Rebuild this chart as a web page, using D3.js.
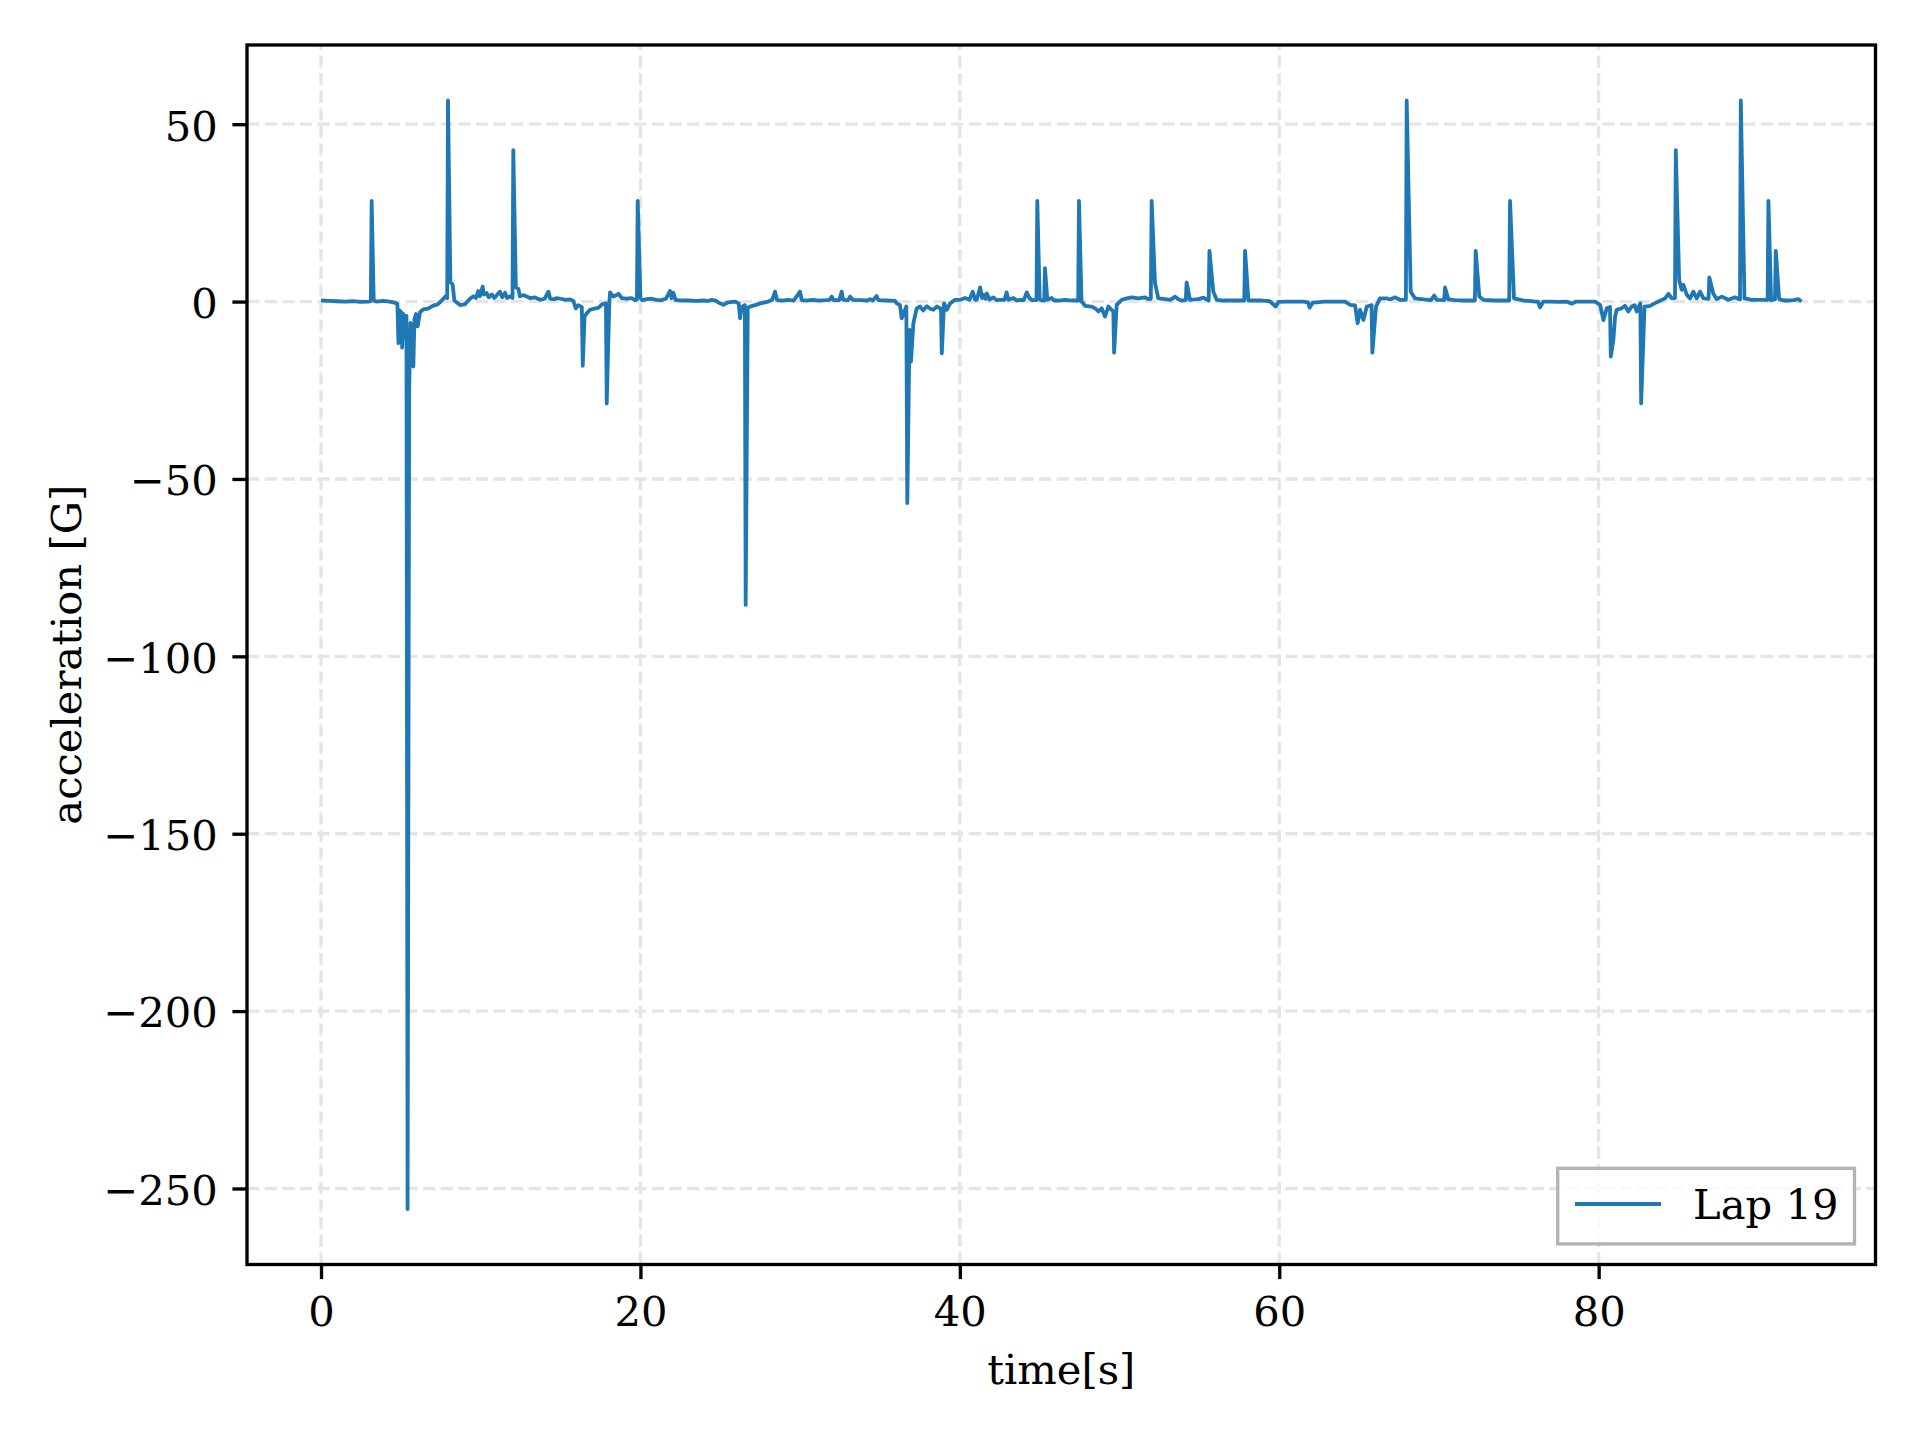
<!DOCTYPE html>
<html>
<head>
<meta charset="utf-8">
<script src="https://cdn.jsdelivr.net/npm/d3@7"></script>
<style>
  html, body { margin: 0; padding: 0; background: #ffffff; }
  svg { display: block; }
  text { font-family: "DejaVu Serif", serif; fill: #000; }
</style>
</head>
<body>
<svg id="chart" width="1920" height="1440"></svg>
<script>
// ---- data ----
const time = [
  0.00, 0.5, 1.0, 1.5, 2.0, 2.5, 3.0, 3.12, 3.17, 3.3, 3.45, 3.9, 4.3, 4.6, 4.78, 4.85, 4.92, 5.02, 5.08, 5.15,
  5.25, 5.35, 5.42, 5.52, 5.6, 5.7, 5.78, 5.85, 5.95, 6.05, 6.2, 6.4, 6.7, 7.0, 7.3, 7.6, 7.8, 7.9, 7.95, 8.1,
  8.24, 8.35, 8.7, 9.0, 9.33, 9.54, 9.7, 9.85, 9.95, 10.12, 10.2, 10.37, 10.5, 10.7, 10.85, 11.0, 11.2, 11.35, 11.52, 11.65,
  11.83, 11.99, 12.04, 12.2, 12.36, 12.45, 12.7, 13.09, 13.4, 13.71, 14.0, 14.24, 14.35, 14.6, 14.76, 15.0, 15.3, 15.6, 15.8, 15.95,
  16.1, 16.33, 16.39, 16.5, 16.7, 16.84, 17.1, 17.36, 17.6, 17.84, 17.89, 18.05, 18.1, 18.31, 18.62, 18.83, 19.1, 19.45, 19.65, 19.78,
  19.83, 20.0, 20.12, 20.4, 20.71, 21.0, 21.3, 21.6, 21.85, 21.95, 22.06, 22.2, 22.58, 23.0, 23.5, 24.0, 24.26, 24.47, 24.7, 24.9,
  25.19, 25.5, 25.93, 26.15, 26.24, 26.34, 26.54, 26.59, 26.72, 26.86, 27.18, 27.5, 28.0, 28.25, 28.43, 28.55, 28.85, 29.26, 29.6, 29.99,
  30.1, 30.41, 30.8, 31.2, 31.6, 31.85, 31.98, 32.1, 32.45, 32.6, 32.7, 33.0, 33.13, 33.3, 33.8, 34.2, 34.38, 34.55, 34.79, 34.9,
  35.4, 35.94, 36.05, 36.25, 36.36, 36.65, 36.71, 36.85, 36.94, 37.09, 37.3, 37.51, 37.7, 37.93, 38.15, 38.35, 38.55, 38.82, 38.87, 39.01,
  39.18, 39.39, 39.7, 40.01, 40.33, 40.6, 40.81, 40.95, 41.06, 41.27, 41.4, 41.48, 41.6, 41.69, 41.85, 42.1, 42.3, 42.51, 42.8, 42.93,
  43.05, 43.35, 43.55, 43.77, 44.0, 44.19, 44.35, 44.5, 44.8, 44.85, 45.0, 45.06, 45.28, 45.33, 45.48, 45.75, 45.9, 46.17, 46.59, 47.0,
  47.41, 47.46, 47.62, 47.73, 47.84, 48.26, 48.5, 48.68, 48.88, 49.09, 49.3, 49.61, 49.66, 49.82, 50.14, 50.45, 50.76, 51.18, 51.6, 51.8,
  51.96, 52.01, 52.22, 52.43, 52.85, 53.2, 53.48, 53.7, 53.9, 54.15, 54.2, 54.41, 54.94, 55.25, 55.58, 55.63, 55.87, 56.08, 56.5, 57.02,
  57.81, 57.86, 58.07, 58.5, 58.9, 59.4, 59.78, 59.95, 60.5, 61.0, 61.5, 61.8, 61.9, 62.1, 62.35, 62.8, 63.3, 63.8, 64.12, 64.43,
  64.75, 64.91, 65.06, 65.27, 65.48, 65.78, 65.83, 66.06, 66.31, 66.73, 66.94, 67.25, 67.56, 67.93, 67.98, 68.23, 68.5, 69.03, 69.5, 69.7,
  69.86, 70.33, 70.38, 70.59, 71.0, 71.53, 72.25, 72.3, 72.53, 72.78, 73.4, 74.03, 74.4, 74.45, 74.7, 75.29, 75.8, 76.02, 76.2, 76.33,
  76.54, 77.0, 77.5, 78.0, 78.31, 78.6, 79.2, 79.77, 80.09, 80.3, 80.51, 80.71, 80.76, 80.92, 81.03, 81.13, 81.44, 81.65, 81.86, 82.07,
  82.25, 82.38, 82.61, 82.66, 82.87, 83.22, 83.5, 83.74, 84.16, 84.37, 84.58, 84.78, 84.83, 85.04, 85.2, 85.31, 85.52, 85.72, 85.93, 86.14,
  86.35, 86.56, 86.88, 86.93, 87.18, 87.39, 87.71, 88.12, 88.54, 88.85, 88.9, 89.13, 89.59, 90.0, 90.42, 90.58, 90.63, 90.8, 90.88, 91.04,
  91.09, 91.3, 91.6, 91.88, 92.2, 92.51, 92.7
];
const accel = [
  0.3, 0.2, 0.1, 0.0, 0.1, -0.1, 0.0, 0.2, 28.4, 0.3, 0.0, 0.2, 0.0, -0.3, -0.6, -11.7, -2.5, -3.0, -13.0, -3.5,
  -10.0, -4.0, -255.8, -24.5, -6.0, -10.0, -18.3, -5.0, -3.5, -7.0, -3.0, -2.2, -2.0, -1.2, -0.8, 0.5, 1.5, 1.0, 56.7, 5.5,
  4.8, 0.3, -1.0, -0.8, 0.8, 1.5, 1.0, 3.0, 1.5, 4.2, 2.0, 2.4, 1.2, 2.0, 1.0, 1.8, 2.8, 1.2, 2.5, 1.0,
  1.5, 1.0, 42.7, 4.0, 3.6, 1.5, 1.8, 1.0, 1.2, 0.5, 0.8, 2.8, 0.8, 0.6, 1.0, 0.8, 0.5, 0.6, 0.2, -1.9,
  -1.0, -1.5, -18.1, -4.2, -3.0, -2.3, -2.0, -1.8, -0.8, -0.5, -28.7, -0.5, 2.6, 1.4, 2.2, 1.0, 0.8, 1.0, 0.4, 0.6,
  28.4, 1.0, 0.4, 0.7, 0.8, 0.5, 0.4, 0.8, 3.0, 1.0, 2.5, 0.5, 0.3, 0.3, 0.2, 0.3, 0.2, 0.5, 0.3, -0.3,
  -0.9, -0.2, 0.0, -0.5, -4.7, -1.5, -1.0, -85.5, -1.8, -1.4, -1.0, -0.5, 0.0, 0.5, 2.8, 0.5, 0.3, 0.5, 0.3, 2.8,
  0.4, 0.3, 0.5, 0.3, 0.4, 0.5, 1.4, 0.4, 0.4, 2.8, 0.5, 0.4, 1.4, 0.5, 0.4, 0.3, 0.7, 0.3, 1.6, 0.4,
  0.3, 0.2, -0.5, -1.0, -4.7, -1.4, -56.8, -8.0, -16.9, -6.1, -1.9, -1.4, -2.5, -1.3, -2.0, -2.3, -1.4, -2.0, -14.6, -0.5,
  -2.3, -0.5, 0.5, 0.5, 1.0, 0.5, 2.8, 0.5, 0.5, 4.0, 1.0, 1.9, 0.8, 2.3, 0.6, 1.2, 0.4, 0.5, 0.5, 2.6,
  0.5, 1.0, 0.3, 0.5, 0.4, 2.6, 1.0, 0.4, 0.4, 28.4, 0.8, 0.4, 0.3, 9.4, 0.5, 1.0, 0.3, 0.3, 0.5, 0.3,
  0.3, 28.4, 0.0, -0.5, -1.2, -1.4, -2.0, -2.8, -1.9, -4.2, -1.4, -2.8, -14.4, -0.9, 0.5, 0.9, 1.2, 0.9, 1.2, 0.7,
  0.8, 28.4, 5.2, 0.9, 0.7, 0.5, 1.4, 0.6, 0.3, 0.5, 5.4, 0.5, 0.7, 1.1, 0.3, 14.3, 2.8, 0.5, 0.3, 0.3,
  0.3, 14.3, 0.3, 0.3, 0.3, 0.1, -1.4, -0.1, 0.0, 0.0, 0.0, -0.2, -1.7, -0.3, -0.2, 0.0, 0.0, 0.0, 0.0, -0.9,
  -1.1, -6.1, -2.3, -5.2, -1.4, -1.0, -14.4, -1.4, 0.9, 0.9, 0.6, 1.2, 0.5, 0.5, 56.7, 2.8, 0.9, 0.6, 0.4, 1.7,
  0.5, 0.4, 4.0, 0.6, 0.4, 0.3, 0.3, 14.3, 1.4, 0.5, 0.3, 0.3, 0.3, 28.4, 0.9, 0.3, 0.1, 0.0, 0.0, -1.6,
  0.0, 0.0, -0.1, 0.0, -0.6, 0.0, 0.0, 0.0, -0.9, -5.2, -1.9, -1.5, -15.5, -10.8, -4.2, -2.3, -1.9, -1.2, -2.8, -1.4,
  -1.0, -2.8, -0.5, -28.7, -1.4, -1.2, -0.5, 0.0, 0.9, 2.2, 0.9, 1.0, 42.7, 6.1, 3.3, 4.7, 1.9, 0.9, 2.8, 0.9,
  2.8, 0.9, 0.8, 6.8, 2.2, 0.7, 1.4, 0.5, 1.2, 0.6, 56.7, 0.9, 0.5, 0.5, 0.5, 0.5, 28.4, 0.4, 0.5, 0.6,
  14.3, 0.7, 0.3, 0.3, 0.4, 0.7, 0.0
];
const xTicks = [0, 20, 40, 60, 80];
const yTicks = [50, 0, -50, -100, -150, -200, -250];
const seriesName = "Lap 19";
const xLabel = "time[s]";
const yLabel = "acceleration [G]";

// ---- layout ----
const W = 1920, H = 1440;
const L = 247, R = 1875.5, T = 45, B = 1264.5;
const FS = 41.67;           // 10pt at 300 dpi
const LW = 3.33;            // 0.8pt
const TICK = 14.6;          // 3.5pt

const data = time.map((t, i) => ({ t, v: accel[i] }));
const [t0, t1] = d3.extent(time);
const [v0, v1] = d3.extent(accel);
const tPad = (t1 - t0) * 0.05, vPad = (v1 - v0) * 0.05;

const x = d3.scaleLinear().domain([t0 - tPad, t1 + tPad]).range([L, R]);
const y = d3.scaleLinear().domain([v0 - vPad, v1 + vPad]).range([B, T]);

const svg = d3.select("#chart");
svg.append("rect").attr("width", W).attr("height", H).attr("fill", "#ffffff");

const fmt = d => (d < 0 ? "\u2212" + Math.abs(d) : String(d));

// grid
const grid = svg.append("g").attr("stroke", "#e5e5e5").attr("stroke-width", LW)
  .attr("stroke-dasharray", "12.3 5.3").attr("fill", "none");
grid.selectAll("line.gx").data(xTicks).join("line").attr("class", "gx")
  .attr("x1", d => x(d)).attr("x2", d => x(d)).attr("y1", B).attr("y2", T);
grid.selectAll("line.gy").data(yTicks).join("line").attr("class", "gy")
  .attr("x1", L).attr("x2", R).attr("y1", d => y(d)).attr("y2", d => y(d));

// series line
const line = d3.line().x(d => x(d.t)).y(d => y(d.v));
svg.append("path").datum(data).attr("d", line)
  .attr("fill", "none").attr("stroke", "#1f77b4").attr("stroke-width", 3.8)
  .attr("stroke-linejoin", "round").attr("stroke-linecap", "butt");

// axes
const xAxis = d3.axisBottom(x).tickValues(xTicks).tickFormat(fmt).tickSize(TICK).tickPadding(0);
const gx = svg.append("g").attr("transform", `translate(0,${B})`).call(xAxis);
gx.select(".domain").remove();
gx.selectAll(".tick line").attr("stroke", "#000").attr("stroke-width", LW);
gx.selectAll(".tick text").attr("y", 61).attr("dy", 0)
  .style("font-size", FS + "px").style("font-family", '"DejaVu Serif", serif').attr("fill", "#000");

const yAxis = d3.axisLeft(y).tickValues(yTicks).tickFormat(fmt).tickSize(TICK).tickPadding(TICK);
const gy = svg.append("g").attr("transform", `translate(${L},0)`).call(yAxis);
gy.select(".domain").remove();
gy.selectAll(".tick line").attr("stroke", "#000").attr("stroke-width", LW);
gy.selectAll(".tick text").attr("dy", "0.38em")
  .style("font-size", FS + "px").style("font-family", '"DejaVu Serif", serif').attr("fill", "#000");

// spines
svg.append("rect").attr("x", L).attr("y", T).attr("width", R - L).attr("height", B - T)
  .attr("fill", "none").attr("stroke", "#000").attr("stroke-width", LW);

// axis labels
svg.append("text").attr("x", (L + R) / 2).attr("y", 1384).attr("text-anchor", "middle")
  .style("font-size", FS + "px").text(xLabel);
svg.append("text").attr("transform", `translate(81,${(T + B) / 2}) rotate(-90)`)
  .attr("text-anchor", "middle").style("font-size", FS + "px").text(yLabel);

// legend
const lg = svg.append("g");
lg.append("rect").attr("x", 1557.7).attr("y", 1168.3).attr("width", 296.8).attr("height", 75.6)
  .attr("fill", "#ffffff").attr("fill-opacity", 0.8).attr("stroke", "#b3b3b3").attr("stroke-width", LW);
lg.append("line").attr("x1", 1575).attr("x2", 1661).attr("y1", 1204).attr("y2", 1204)
  .attr("stroke", "#1f77b4").attr("stroke-width", 3.8);
lg.append("text").attr("x", 1693).attr("y", 1219).style("font-size", FS + "px").text(seriesName);
</script>
</body>
</html>
